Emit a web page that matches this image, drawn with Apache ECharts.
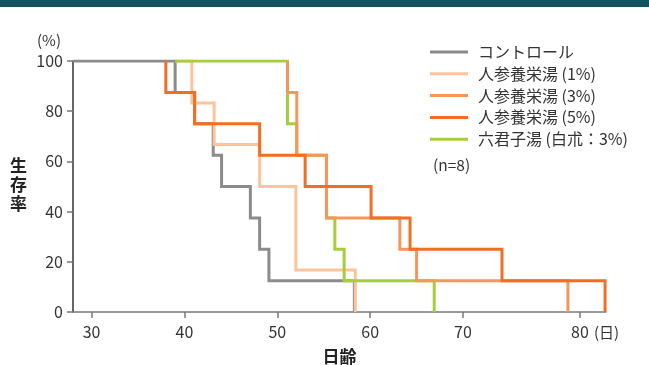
<!DOCTYPE html>
<html><head><meta charset="utf-8">
<script src="https://cdn.jsdelivr.net/npm/echarts@6/dist/echarts.min.js"></script>
<style>html,body{margin:0;padding:0;background:#fff}#c{width:649px;height:365px}</style>
</head><body><div id="c"></div>
<script>
// ---- data (days, survival %) ----
const seriesNames = ['コントロール', '人参養栄湯 (1%)', '人参養栄湯 (3%)', '人参養栄湯 (5%)', '六君子湯 (白朮：3%)'];
const controlDays = [28, 39.0, 41.1, 43.1, 44.0, 47.1, 48.1, 49.1, 58.3];
const controlSurv = [100, 87.5, 75, 62.5, 50, 37.5, 25, 12.5, 0];
const nin1Days = [39.0, 40.8, 43.2, 48.1, 52.0, 58.4];
const nin1Surv = [100, 83.3, 66.7, 50, 16.7, 0];
const nin3Days = [51.1, 51.1, 52.1, 55.3, 63.2, 65.0, 81.3];
const nin3Surv = [100, 87.5, 62.5, 37.5, 25, 12.5, 0];
const nin5Days = [38.0, 38.0, 41.1, 48.1, 53.0, 60.1, 64.3, 74.2, 85.3];
const nin5Surv = [100, 87.5, 75, 62.5, 50, 37.5, 25, 12.5, 0];
const rikuDays = [39.0, 51.1, 52.1, 55.3, 56.2, 57.2, 66.9];
const rikuSurv = [100, 75, 62.5, 37.5, 25, 12.5, 0];
const yTickLabels = ['0', '20', '40', '60', '80', '100'];
const xTickValues = [30, 40, 50, 60, 70, 82.6];
const xTickLabels = ['30', '40', '50', '60', '70', '80'];

const FONT = '"Noto Sans CJK JP", "Noto Sans", sans-serif';
const colors = ['#8b8b8d', '#fdc49b', '#f5975b', '#f26e22', '#a5cf3a'];
const zip = (d, s) => d.map((x, i) => [x, s[i]]);
const sets = [zip(controlDays, controlSurv), zip(nin1Days, nin1Surv), zip(nin3Days, nin3Surv), zip(nin5Days, nin5Surv), zip(rikuDays, rikuSurv)];
// draw order: control, 1%, 六君子湯, 3%, 5%
const drawOrder = [0, 1, 4, 2, 3];

const chart = echarts.init(document.getElementById('c'), null, {renderer: 'canvas'});
chart.setOption({
  animation: false,
  textStyle: {fontFamily: FONT},
  grid: {left: 73, right: 43, top: 61, bottom: 53, containLabel: false, outerBoundsMode: 'none'},
  legend: {
    data: seriesNames.map(n => ({name: n, icon: 'rect'})),
    orient: 'vertical', left: 430, top: 44, padding: 0,
    itemWidth: 38, itemHeight: 3, itemGap: 5.8,
    textStyle: {fontSize: 16, color: '#333', fontFamily: FONT, padding: [0, 0, 0, 5]},
    selectedMode: false
  },
  xAxis: {
    type: 'value', min: 28, max: 85.4,
    axisLine: {show: true, lineStyle: {color: '#7a7a7a', width: 1.5}},
    axisTick: {show: true, length: 6, customValues: xTickValues, lineStyle: {color: '#7a7a7a', width: 1.5}},
    axisLabel: {customValues: xTickValues, fontSize: 16, color: '#333', margin: 12,
      formatter: v => { const i = xTickValues.findIndex(t => Math.abs(t - v) < 1e-6); return i >= 0 ? xTickLabels[i] : ''; }},
    splitLine: {show: false},
    name: '日齢', nameLocation: 'middle', nameGap: 36,
    nameTextStyle: {fontSize: 17, fontWeight: 'bold', color: '#222'}
  },
  yAxis: {
    type: 'value', min: 0, max: 100, interval: 20,
    axisLine: {show: true, lineStyle: {color: '#333', width: 1.5}},
    axisTick: {show: true, length: 6, lineStyle: {color: '#777', width: 1.5}},
    axisLabel: {fontSize: 16, color: '#333', margin: 10, formatter: v => yTickLabels[Math.round(v / 20)]},
    splitLine: {show: false}
  },
  graphic: [
    {type: 'rect', shape: {x: 0, y: 0, width: 649, height: 7}, style: {fill: '#12525f'}},
    {type: 'text', left: 37, top: 33, style: {text: '(%)', fontSize: 15, fill: '#333', fontFamily: FONT}},
    {type: 'text', left: 10, top: 156, style: {text: '生\n存\n率', fontSize: 17, lineHeight: 19, fontWeight: 'bold', fill: '#222', fontFamily: FONT}},
    {type: 'text', left: 594, top: 325, style: {text: '(日)', fontSize: 15, fill: '#333', fontFamily: FONT}},
    {type: 'text', left: 433, top: 157, style: {text: '(n=8)', fontSize: 15.5, fill: '#333', fontFamily: FONT}}
  ],
  series: drawOrder.map((k, z) => ({
    name: seriesNames[k], type: 'line', step: 'end', data: sets[k],
    symbol: 'none', z: 2 + z,
    lineStyle: {color: colors[k], width: 3, join: 'miter', cap: 'butt'},
    itemStyle: {color: colors[k]}
  }))
});
</script></body></html>
